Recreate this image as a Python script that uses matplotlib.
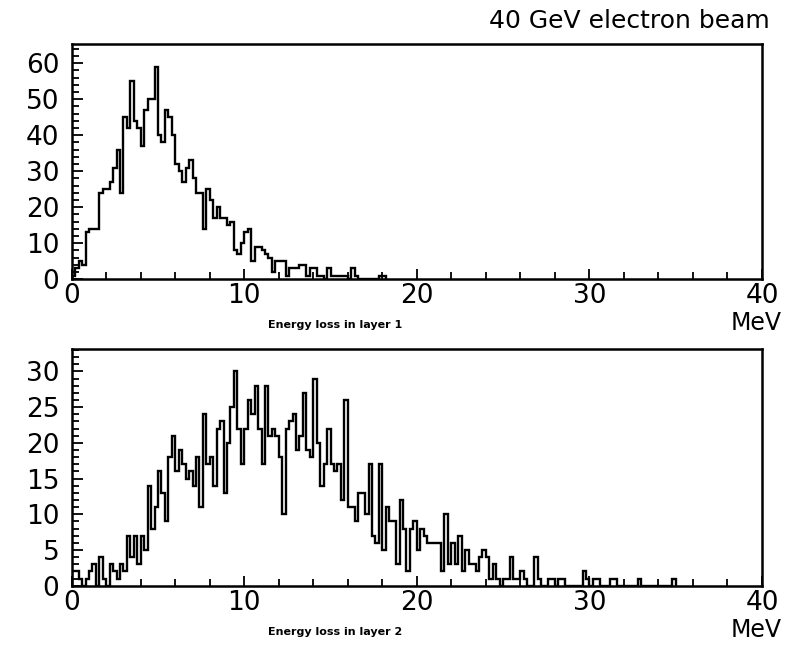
import numpy as np
import matplotlib
matplotlib.use("Agg")
import matplotlib.pyplot as plt
from matplotlib.ticker import MultipleLocator

# histogram contents, 0.2 MeV bins starting at 0
bin_width = 0.2
layer1_counts = [
    1, 3, 5, 4, 13, 14, 14, 14, 24, 25,
    25, 27, 31, 36, 24, 45, 42, 55, 44, 42,
    37, 47, 50, 50, 59, 40, 38, 47, 45, 40,
    32, 30, 27, 31, 33, 28, 24, 24, 14, 25,
    22, 17, 20, 17, 17, 15, 16, 8, 7, 10,
    13, 14, 5, 9, 9, 8, 7, 6, 2, 5,
    5, 5, 1, 3, 3, 3, 4, 4, 1, 3,
    3, 1, 1, 0, 3, 1, 1, 1, 1, 1,
    0, 3, 1, 0, 0, 0, 0, 0, 0, 1,
    1,
]
layer2_counts = [
    2, 2, 1, 0, 1, 2, 3, 0, 4, 1,
    0, 3, 2, 1, 3, 2, 7, 4, 7, 3,
    7, 5, 14, 8, 11, 16, 13, 9, 18, 21,
    16, 19, 17, 15, 16, 14, 18, 11, 24, 17,
    18, 14, 22, 23, 13, 20, 25, 30, 22, 17,
    22, 26, 24, 28, 22, 17, 28, 21, 22, 21,
    18, 10, 22, 23, 24, 19, 21, 27, 19, 18,
    29, 20, 14, 17, 22, 17, 16, 17, 12, 26,
    11, 11, 9, 13, 13, 10, 17, 7, 6, 17,
    5, 11, 9, 9, 3, 12, 8, 2, 8, 9,
    5, 8, 7, 6, 6, 6, 6, 2, 10, 3,
    6, 3, 7, 2, 5, 3, 3, 2, 4, 5,
    4, 1, 3, 1, 0, 1, 1, 4, 1, 1,
    2, 1, 0, 0, 4, 1, 0, 0, 1, 1,
    0, 1, 1, 0, 0, 0, 0, 0, 2, 1,
    0, 1, 1, 0, 0, 0, 1, 1, 0, 0,
    0, 0, 0, 0, 1, 0, 0, 0, 0, 0,
    0, 0, 0, 0, 1,
]
x_ticks = [0, 10, 20, 30, 40]
panels = [
    ("Energy loss in layer 1", layer1_counts, 65.3, 10, 2),
    ("Energy loss in layer 2", layer2_counts, 33.1, 5, 1),
]

plt.rcParams["font.family"] = "DejaVu Sans"

W, H = 788, 646
fig = plt.figure(figsize=(W / 100, H / 100), dpi=100)

# axes boxes in pixels: left, top, right, bottom
boxes = [(71.7, 44, 762, 279.3), (71.7, 349.3, 762, 585.7)]

for (label, counts, ymax, ymaj, ymin), (l, t, r, b) in zip(panels, boxes):
    ax = fig.add_axes([l / W, 1 - b / H, (r - l) / W, (b - t) / H])
    edges = np.arange(len(counts) + 1) * bin_width
    ax.stairs(counts, edges, color="black", lw=1.7, baseline=0)
    ax.set_xlim(0, 40)
    ax.set_ylim(0, ymax)
    ax.set_xticks(x_ticks)
    ax.xaxis.set_minor_locator(MultipleLocator(2))
    ax.yaxis.set_major_locator(MultipleLocator(ymaj))
    ax.yaxis.set_minor_locator(MultipleLocator(ymin))
    ax.tick_params(which="both", direction="in", top=False, right=False,
                   width=1.3, labelsize=19)
    ax.tick_params(axis="y", which="major", length=8, pad=9)
    ax.tick_params(axis="y", which="minor", length=5)
    ax.tick_params(axis="x", which="major", length=7, pad=3)
    ax.tick_params(axis="x", which="minor", length=5)
    for s in ax.spines.values():
        s.set_linewidth(1.8)
    fig.text(335 / W, 1 - (b + 46) / H, label, ha="center", va="center",
             fontsize=8, fontweight="bold")
    fig.text(782 / W, 1 - (b + 44) / H, "MeV", ha="right", va="center",
             fontsize=17)

fig.text(770 / W, 1 - 28 / H, "40 GeV electron beam", ha="right",
         va="baseline", fontsize=18)

fig.savefig("out.png", dpi=100)
